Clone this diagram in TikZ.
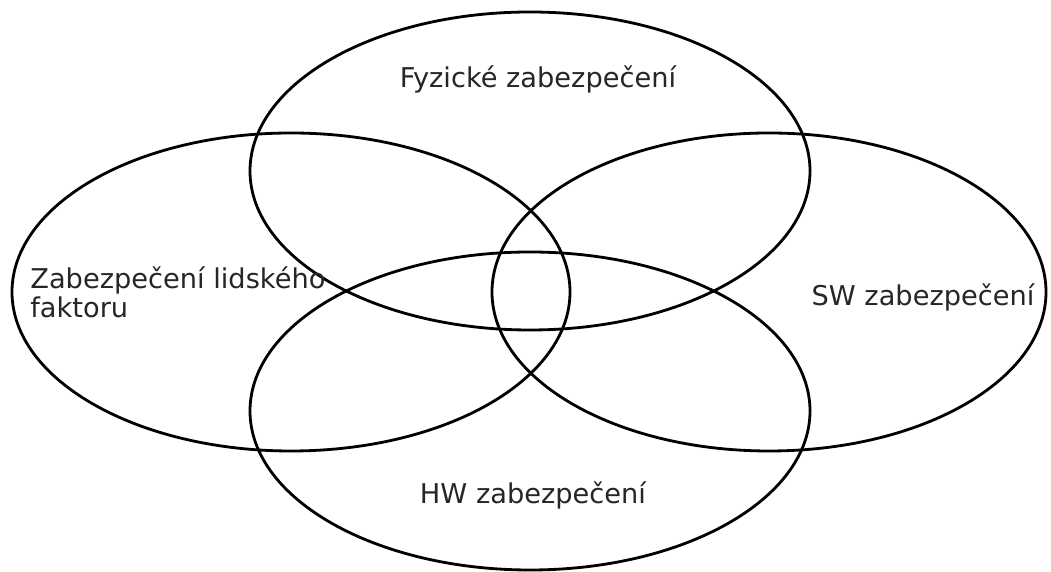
\documentclass[tikz,border=0pt]{standalone}
\usepackage{fontspec}
\setmainfont{DejaVu Sans}
\usepackage{tikz}
\usetikzlibrary{shapes,positioning}

\begin{document}
\begin{tikzpicture}[
    area/.style={ellipse, draw, line width=1.6pt, inner sep=0pt, minimum width=11.2cm, minimum height=6.36cm},
    label/.style={inner sep=0pt, font=\fontsize{15.5}{17}\selectfont, text=black!85}
]
\useasboundingbox (0,0) rectangle (21.02,11.44);

% Four overlapping areas
\node[area] (fyz) at (10.60,8.02) {};
\node[area, minimum width=11.16cm] (lid) at (5.82,5.60) {};
\node[area, minimum width=11.08cm] (sw) at (15.38,5.60) {};
\node[area] (hw) at (10.60,3.22) {};

% Labels
\node[label, anchor=base] (fyztext) at (10.76,9.68) {Fyzické zabezpečení};
\node[label, anchor=base west, align=left] (lidtext) at (0.60,5.08) {Zabezpečení lidského\\faktoru};
\node[label, anchor=base] (swtext) at (18.46,5.32) {SW zabezpečení};
\node[label, anchor=base] (hwtext) at (10.66,1.36) {HW zabezpečení};

\end{tikzpicture}
\end{document}
